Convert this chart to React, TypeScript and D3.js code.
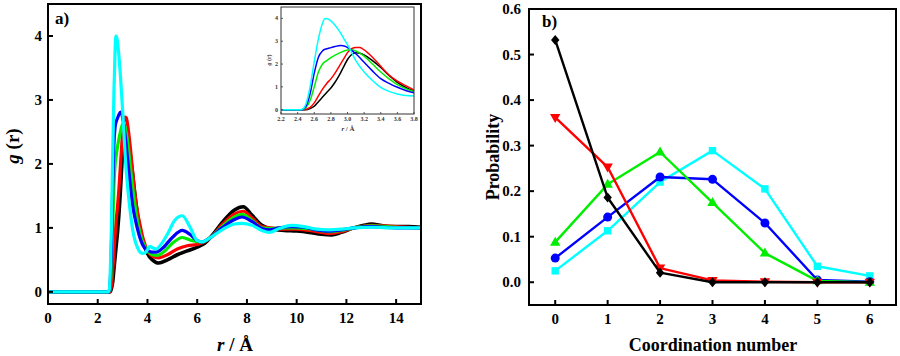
import React from 'react';
import * as d3 from 'd3';

type Pt = [number, number];

// g(r) curves (r in Å, g(r))
const rdfBlack: Pt[] = [
  [0, 0], [2.5, 0], [2.55, 0.05], [2.6, 0.15], [2.65, 0.35], [2.7, 0.55], [2.75, 0.75], [2.8, 0.95],
  [2.85, 1.2], [2.9, 1.5], [2.95, 1.85], [3.0, 2.2], [3.05, 2.42], [3.1, 2.5], [3.15, 2.47], [3.2, 2.4],
  [3.3, 2.15], [3.4, 1.85], [3.5, 1.5], [3.6, 1.2], [3.7, 0.98], [3.8, 0.82], [3.9, 0.7], [4.0, 0.6],
  [4.2, 0.5], [4.45, 0.45], [4.8, 0.5], [5.2, 0.58], [5.6, 0.64], [6.0, 0.7], [6.3, 0.76], [6.6, 0.88],
  [7.0, 1.08], [7.5, 1.28], [7.85, 1.33], [8.2, 1.2], [8.6, 1.04], [9.0, 0.98], [9.5, 0.96], [10, 0.95],
  [10.5, 0.93], [11, 0.9], [11.4, 0.89], [11.8, 0.93], [12.3, 1.0], [12.7, 1.04], [13, 1.06], [13.5, 1.03],
  [14, 1.02], [14.5, 1.02], [15, 1.01],
];
const rdfRed: Pt[] = [
  [0, 0], [2.48, 0], [2.55, 0.1], [2.6, 0.3], [2.65, 0.6], [2.7, 0.9], [2.75, 1.15], [2.8, 1.35],
  [2.85, 1.6], [2.9, 1.9], [2.95, 2.2], [3.0, 2.5], [3.05, 2.67], [3.1, 2.73], [3.15, 2.72], [3.2, 2.62],
  [3.3, 2.3], [3.4, 1.9], [3.5, 1.52], [3.6, 1.25], [3.7, 1.05], [3.8, 0.87], [3.9, 0.74], [4.0, 0.64],
  [4.2, 0.56], [4.45, 0.53], [4.8, 0.58], [5.2, 0.67], [5.6, 0.72], [6.0, 0.74], [6.3, 0.78], [6.6, 0.87],
  [7.0, 1.05], [7.5, 1.22], [7.85, 1.26], [8.2, 1.16], [8.6, 1.02], [9.0, 1.0], [9.5, 0.98], [10, 0.98],
  [10.8, 0.94], [11.3, 0.91], [11.8, 0.94], [12.3, 1.0], [13, 1.04], [14, 1.02], [15, 1.0],
];
const rdfGreen: Pt[] = [
  [0, 0], [2.45, 0], [2.5, 0.1], [2.55, 0.4], [2.6, 1.0], [2.65, 1.65], [2.7, 2.0], [2.75, 2.15],
  [2.8, 2.28], [2.9, 2.48], [3.0, 2.62], [3.05, 2.63], [3.1, 2.57], [3.2, 2.35], [3.3, 2.0], [3.4, 1.65],
  [3.5, 1.35], [3.6, 1.1], [3.7, 0.92], [3.8, 0.79], [3.9, 0.71], [4.0, 0.65], [4.2, 0.58], [4.4, 0.57],
  [4.7, 0.64], [5.0, 0.76], [5.4, 0.85], [5.8, 0.8], [6.2, 0.78], [6.5, 0.84], [7.0, 1.02], [7.5, 1.17],
  [7.8, 1.21], [8.2, 1.12], [8.6, 1.0], [9.0, 0.99], [9.5, 1.0], [10, 1.0], [10.8, 0.97], [11.3, 0.94],
  [11.8, 0.96], [12.3, 1.0], [13, 1.03], [14, 1.01], [15, 1.0],
];
const rdfBlue: Pt[] = [
  [0, 0], [2.45, 0], [2.5, 0.15], [2.55, 0.7], [2.6, 1.6], [2.65, 2.3], [2.7, 2.58], [2.75, 2.67],
  [2.8, 2.72], [2.85, 2.77], [2.92, 2.81], [2.97, 2.78], [3.0, 2.72], [3.05, 2.6], [3.1, 2.45], [3.2, 2.08],
  [3.3, 1.7], [3.4, 1.36], [3.5, 1.15], [3.6, 0.98], [3.7, 0.84], [3.8, 0.74], [3.9, 0.68], [4.0, 0.65],
  [4.2, 0.62], [4.35, 0.62], [4.6, 0.68], [5.0, 0.85], [5.4, 0.96], [5.7, 0.9], [6.0, 0.8], [6.2, 0.78],
  [6.5, 0.84], [7.0, 1.0], [7.5, 1.13], [7.8, 1.17], [8.2, 1.1], [8.6, 0.99], [8.9, 0.97], [9.3, 1.0],
  [9.8, 1.02], [10.3, 1.01], [10.8, 0.97], [11.3, 0.95], [11.8, 0.97], [12.3, 1.0], [13, 1.02], [14, 1.0],
  [15, 1.0],
];
const rdfCyan: Pt[] = [
  [0, 0], [2.43, 0], [2.47, 0.05], [2.5, 0.25], [2.55, 1.0], [2.6, 2.1], [2.65, 3.1], [2.7, 3.8],
  [2.73, 4.0], [2.78, 3.95], [2.85, 3.7], [2.9, 3.45], [2.95, 3.15], [3.0, 2.85], [3.05, 2.5], [3.1, 2.15],
  [3.2, 1.65], [3.3, 1.28], [3.4, 0.98], [3.5, 0.8], [3.6, 0.69], [3.7, 0.62], [3.8, 0.6], [3.9, 0.61],
  [4.0, 0.66], [4.1, 0.71], [4.2, 0.69], [4.35, 0.67], [4.5, 0.72], [4.8, 0.9], [5.1, 1.12], [5.4, 1.19],
  [5.7, 1.02], [6.0, 0.8], [6.2, 0.78], [6.5, 0.84], [7.0, 0.97], [7.5, 1.06], [7.8, 1.07], [8.2, 1.04],
  [8.6, 0.96], [8.9, 0.93], [9.3, 0.99], [9.8, 1.04], [10.3, 1.02], [10.8, 0.98], [11.3, 0.97], [11.8, 0.98],
  [12.3, 1.0], [13, 1.01], [14, 1.0], [15, 1.0],
];

// Coordination-number distributions
const cnCategories = [0, 1, 2, 3, 4, 5, 6];
const probBlack = [0.532, 0.186, 0.021, 0.0, 0.0, 0.0, 0.0];
const probRed = [0.362, 0.253, 0.031, 0.004, 0.001, 0.0, 0.0];
const probGreen = [0.088, 0.215, 0.286, 0.175, 0.064, 0.003, 0.0];
const probBlue = [0.053, 0.143, 0.231, 0.226, 0.13, 0.005, 0.001];
const probCyan = [0.025, 0.113, 0.22, 0.289, 0.205, 0.035, 0.014];

const rTicks = [0, 2, 4, 6, 8, 10, 12, 14];
const gTicks = [0, 1, 2, 3, 4];
const insetRTicks = [2.2, 2.4, 2.6, 2.8, 3.0, 3.2, 3.4, 3.6, 3.8];
const probTicks = [0, 0.1, 0.2, 0.3, 0.4, 0.5, 0.6];

const FONT = '"Liberation Serif", "Times New Roman", serif';

const rdfSeries = [
  { data: rdfBlack, color: '#000000' },
  { data: rdfRed, color: '#ff0000' },
  { data: rdfGreen, color: '#00ee00' },
  { data: rdfBlue, color: '#0000ff' },
  { data: rdfCyan, color: '#00ffff' },
];

const probSeries = [
  { data: probCyan, color: '#00ffff', marker: 'square' },
  { data: probBlue, color: '#0000ff', marker: 'circle' },
  { data: probGreen, color: '#00ee00', marker: 'up' },
  { data: probRed, color: '#ff0000', marker: 'down' },
  { data: probBlack, color: '#000000', marker: 'diamond' },
];

function Marker({ type, x, y, color }: { type: string; x: number; y: number; color: string }) {
  if (type === 'circle') return <circle cx={x} cy={y} r={4.5} fill={color} />;
  if (type === 'square') return <rect x={x - 3.7} y={y - 3.7} width={7.4} height={7.4} fill={color} />;
  if (type === 'up')
    return <path d={`M${x},${y - 5.5}L${x + 5.2},${y + 3.5}L${x - 5.2},${y + 3.5}Z`} fill={color} />;
  if (type === 'down')
    return <path d={`M${x},${y + 5.5}L${x + 5.2},${y - 3.5}L${x - 5.2},${y - 3.5}Z`} fill={color} />;
  return <path d={`M${x},${y - 5}L${x + 4.2},${y}L${x},${y + 5}L${x - 4.2},${y}Z`} fill={color} />;
}

export default function App() {
  // Panel a
  const A = { left: 48, right: 421, top: 4, bottom: 304 };
  const xA = d3.scaleLinear().domain([0, 15]).range([A.left, A.right]);
  const yA = d3.scaleLinear().domain([-0.19, 4.5]).range([A.bottom, A.top]);
  const lineA = d3
    .line<Pt>()
    .x((d) => xA(d[0]))
    .y((d) => yA(d[1]))
    .curve(d3.curveMonotoneX);

  // Inset
  const I = { left: 281, right: 414, top: 7, bottom: 114 };
  const xI = d3.scaleLinear().domain([2.2, 3.8]).range([I.left, I.right]);
  const yI = d3.scaleLinear().domain([-0.19, 4.5]).range([I.bottom, I.top]);
  const lineI = d3
    .line<Pt>()
    .x((d) => xI(d[0]))
    .y((d) => yI(d[1]))
    .curve(d3.curveMonotoneX);

  // Panel b
  const B = { left: 529, right: 896, top: 9, bottom: 305 };
  const xB = d3.scaleLinear().domain([-0.5, 6.5]).range([B.left, B.right]);
  const yB = d3.scaleLinear().domain([-0.05, 0.6]).range([B.bottom, B.top]);
  const lineB = d3
    .line<number>()
    .x((_, i) => xB(cnCategories[i]))
    .y((d) => yB(d));

  return (
    <svg
      width={900}
      height={356}
      style={{ position: 'absolute', left: 0, top: 0, background: '#fff' }}
      fontFamily={FONT}
    >
      <defs>
        <clipPath id="clipA">
          <rect x={A.left} y={A.top} width={A.right - A.left} height={A.bottom - A.top} />
        </clipPath>
        <clipPath id="clipI">
          <rect x={I.left} y={I.top} width={I.right - I.left} height={I.bottom - I.top} />
        </clipPath>
      </defs>

      {/* ===== Panel a ===== */}
      <g clipPath="url(#clipA)">
        {rdfSeries.map((s, i) => (
          <path
            key={i}
            d={lineA(s.data) || ''}
            fill="none"
            stroke={s.color}
            strokeWidth={i === 0 ? 3.6 : 3.2}
            strokeLinejoin="round"
          />
        ))}
      </g>
      <rect
        x={A.left}
        y={A.top}
        width={A.right - A.left}
        height={A.bottom - A.top}
        fill="none"
        stroke="#000"
        strokeWidth={2}
      />
      {rTicks.map((t) => (
        <g key={t}>
          <line x1={xA(t)} x2={xA(t)} y1={A.bottom} y2={A.bottom - 5} stroke="#000" strokeWidth={2} />
          <text x={xA(t)} y={323} textAnchor="middle" fontSize={15} fontWeight="bold">
            {t}
          </text>
        </g>
      ))}
      {gTicks.map((t) => (
        <g key={t}>
          <line x1={A.left} x2={A.left + 5} y1={yA(t)} y2={yA(t)} stroke="#000" strokeWidth={2} />
          <text x={42} y={yA(t) + 5} textAnchor="end" fontSize={15} fontWeight="bold">
            {t}
          </text>
        </g>
      ))}
      <text x={55} y={24} fontSize={17} fontWeight="bold">
        a)
      </text>
      <text
        transform={`translate(19,${146}) rotate(-90)`}
        textAnchor="middle"
        fontSize={19}
        fontWeight="bold"
      >
        <tspan fontStyle="italic">g</tspan> (r)
      </text>
      <text x={235} y={351} textAnchor="middle" fontSize={19} fontWeight="bold">
        <tspan fontStyle="italic">r</tspan> / Å
      </text>

      {/* ===== Inset ===== */}
      <rect x={I.left} y={I.top} width={I.right - I.left} height={I.bottom - I.top} fill="#fff" />
      <g clipPath="url(#clipI)">
        {rdfSeries.map((s, i) => (
          <path
            key={i}
            d={lineI(s.data) || ''}
            fill="none"
            stroke={s.color}
            strokeWidth={1.5}
            strokeLinejoin="round"
          />
        ))}
      </g>
      <rect
        x={I.left}
        y={I.top}
        width={I.right - I.left}
        height={I.bottom - I.top}
        fill="none"
        stroke="#333"
        strokeWidth={1}
      />
      {insetRTicks.map((t) => (
        <g key={t}>
          <line x1={xI(t)} x2={xI(t)} y1={I.bottom} y2={I.bottom - 2} stroke="#333" strokeWidth={0.8} />
          <text x={xI(t)} y={121} textAnchor="middle" fontSize={6} fontWeight="bold" fill="#333">
            {t.toFixed(1)}
          </text>
        </g>
      ))}
      {gTicks.map((t) => (
        <g key={t}>
          <line x1={I.left} x2={I.left + 2} y1={yI(t)} y2={yI(t)} stroke="#333" strokeWidth={0.8} />
          <text x={278} y={yI(t) + 2} textAnchor="end" fontSize={6} fontWeight="bold" fill="#333">
            {t}
          </text>
        </g>
      ))}
      <text
        transform={`translate(271,${60}) rotate(-90)`}
        textAnchor="middle"
        fontSize={6}
        fontWeight="bold"
        fill="#333"
      >
        <tspan fontStyle="italic">g</tspan> (r)
      </text>
      <text x={348} y={131} textAnchor="middle" fontSize={7} fontWeight="bold" fill="#333">
        <tspan fontStyle="italic">r</tspan> / Å
      </text>

      {/* ===== Panel b ===== */}
      {probSeries.map((s, i) => (
        <g key={i}>
          <path d={lineB(s.data) || ''} fill="none" stroke={s.color} strokeWidth={2.4} strokeLinejoin="round" />
          {s.data.map((v, j) => (
            <Marker key={j} type={s.marker} x={xB(cnCategories[j])} y={yB(v)} color={s.color} />
          ))}
        </g>
      ))}
      <rect
        x={B.left}
        y={B.top}
        width={B.right - B.left}
        height={B.bottom - B.top}
        fill="none"
        stroke="#000"
        strokeWidth={2}
      />
      {cnCategories.map((t) => (
        <g key={t}>
          <line x1={xB(t)} x2={xB(t)} y1={B.bottom} y2={B.bottom - 5} stroke="#000" strokeWidth={2} />
          <text x={xB(t)} y={324} textAnchor="middle" fontSize={15} fontWeight="bold">
            {t}
          </text>
        </g>
      ))}
      {probTicks.map((t) => (
        <g key={t}>
          <line x1={B.left} x2={B.left + 5} y1={yB(t)} y2={yB(t)} stroke="#000" strokeWidth={2} />
          <text x={521} y={yB(t) + 5} textAnchor="end" fontSize={15} fontWeight="bold">
            {t.toFixed(1)}
          </text>
        </g>
      ))}
      <text x={542} y={27} fontSize={17} fontWeight="bold">
        b)
      </text>
      <text
        transform={`translate(499,${157}) rotate(-90)`}
        textAnchor="middle"
        fontSize={18}
        fontWeight="bold"
      >
        Probability
      </text>
      <text x={713} y={351} textAnchor="middle" fontSize={18} fontWeight="bold">
        Coordination number
      </text>
    </svg>
  );
}
